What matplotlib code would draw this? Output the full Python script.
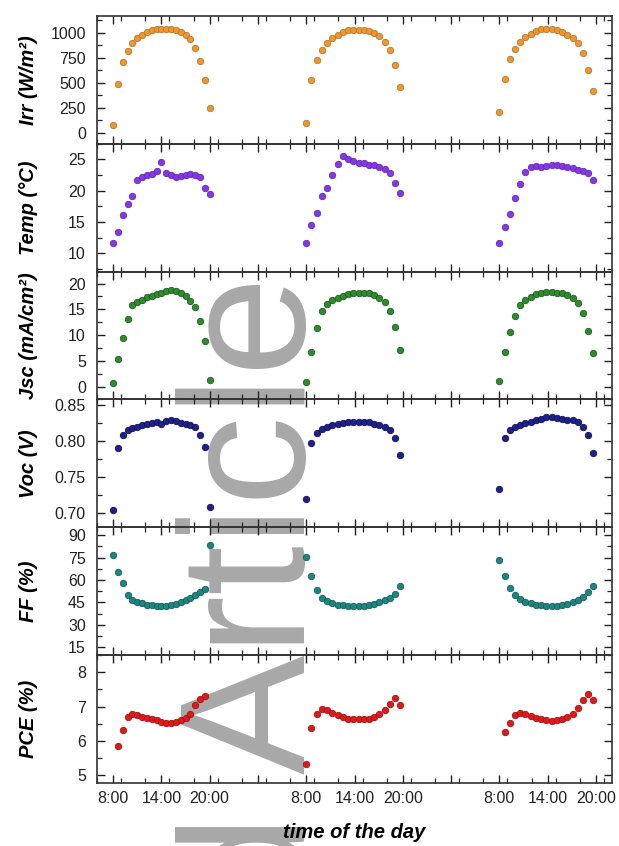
import numpy as np
import matplotlib
matplotlib.use("Agg")
import matplotlib.pyplot as plt
from matplotlib.ticker import MultipleLocator, FixedLocator, FixedFormatter

plt.rcParams['font.family'] = ['Liberation Sans', 'DejaVu Sans']

# ============================================================
# DATA (hours of the day)
# ============================================================
time_d1 = [8.0, 8.6, 9.2, 9.8, 10.4, 11.0, 11.6, 12.2, 12.8, 13.4, 14.0,
           14.6, 15.2, 15.8, 16.4, 17.0, 17.6, 18.2, 18.8, 19.4, 20.0]
time_d2 = [8.0, 8.65, 9.3, 9.95, 10.6, 11.25, 11.9, 12.55, 13.2, 13.85,
           14.5, 15.15, 15.8, 16.45, 17.1, 17.75, 18.4, 19.05, 19.6]
time_d3 = [8.0, 8.7, 9.3, 9.95, 10.6, 11.25, 11.9, 12.55, 13.2, 13.85,
           14.5, 15.15, 15.8, 16.45, 17.1, 17.75, 18.4, 19.05, 19.6]
day_offsets = [0, 24, 48]

irr_d1 = [81, 491, 712, 818, 902, 947, 982, 1007, 1025, 1035, 1042,
          1042, 1035, 1028, 1011, 982, 937, 853, 719, 526, 246]
irr_d2 = [98, 526, 726, 832, 902, 947, 982, 1007, 1025, 1028, 1028,
          1025, 1018, 1000, 965, 912, 825, 677, 456]
irr_d3 = [211, 544, 737, 842, 912, 958, 993, 1018, 1035, 1042, 1035,
          1025, 1007, 982, 947, 902, 796, 632, 421]

temp_d1 = [11.7, 13.4, 16.2, 17.9, 19.2, 21.7, 22.2, 22.5, 22.7, 23.1, 24.6,
           22.9, 22.6, 22.2, 22.3, 22.5, 22.7, 22.6, 22.2, 20.5, 19.5]
temp_d2 = [11.7, 14.6, 16.5, 19.1, 20.5, 22.5, 24.3, 25.5, 25.0, 24.7,
           24.5, 24.4, 24.2, 24.1, 23.8, 23.5, 22.8, 21.3, 19.6]
temp_d3 = [11.6, 14.3, 16.3, 18.9, 21.1, 23.0, 23.8, 23.9, 23.8, 23.9,
           24.1, 24.2, 23.9, 23.8, 23.6, 23.4, 23.2, 22.8, 21.7]

jsc_d1 = [0.7, 5.4, 9.4, 13.2, 15.8, 16.4, 16.9, 17.4, 17.6, 17.9, 18.2,
          18.5, 18.7, 18.5, 18.2, 17.6, 16.6, 15.5, 12.8, 8.9, 1.3]
jsc_d2 = [0.9, 6.8, 11.3, 14.6, 16.1, 16.8, 17.2, 17.6, 17.9, 18.1,
          18.2, 18.2, 18.1, 17.8, 17.2, 16.4, 14.7, 11.6, 7.2]
jsc_d3 = [1.1, 6.8, 10.6, 13.7, 15.8, 16.8, 17.4, 17.9, 18.2, 18.4,
          18.4, 18.2, 18.1, 17.8, 17.2, 16.3, 14.2, 10.8, 6.5]

voc_d1 = [0.704, 0.790, 0.808, 0.815, 0.818, 0.820, 0.822, 0.824, 0.825,
          0.827, 0.824, 0.828, 0.829, 0.828, 0.825, 0.824, 0.822, 0.820,
          0.808, 0.792, 0.709]
voc_d2 = [0.720, 0.798, 0.811, 0.817, 0.820, 0.823, 0.824, 0.825, 0.827,
          0.827, 0.827, 0.827, 0.826, 0.824, 0.822, 0.820, 0.816, 0.805, 0.781]
voc_d3 = [0.733, 0.805, 0.816, 0.820, 0.823, 0.825, 0.827, 0.830, 0.831,
          0.833, 0.833, 0.832, 0.831, 0.830, 0.829, 0.827, 0.820, 0.808, 0.784]

ff_d1 = [76.8, 65.7, 58.0, 50.3, 46.5, 45.4, 44.3, 43.6, 43.2, 42.8, 42.8,
         42.8, 43.2, 43.9, 45.0, 46.5, 48.1, 49.8, 52.0, 54.2, 83.4]
ff_d2 = [75.2, 62.6, 53.1, 48.1, 45.8, 44.3, 43.6, 43.2, 42.8, 42.5,
         42.5, 42.8, 43.2, 43.9, 45.0, 46.5, 48.1, 50.9, 56.0]
ff_d3 = [73.7, 62.6, 54.9, 50.3, 47.2, 45.4, 44.3, 43.6, 43.2, 42.8,
         42.8, 42.8, 43.2, 43.9, 45.0, 46.5, 48.7, 52.0, 56.0]

pce_d1 = [np.nan, 5.84, 6.33, 6.71, 6.79, 6.75, 6.71, 6.68, 6.63, 6.60, 6.56,
          6.53, 6.53, 6.55, 6.60, 6.68, 6.79, 7.05, 7.22, 7.31, np.nan]
pce_d2 = [5.32, 6.38, 6.77, 6.92, 6.89, 6.82, 6.75, 6.70, 6.65, 6.63,
          6.63, 6.63, 6.65, 6.70, 6.77, 6.89, 7.07, 7.25, 7.04]
pce_d3 = [np.nan, 6.26, 6.53, 6.75, 6.82, 6.79, 6.73, 6.68, 6.63, 6.60,
          6.58, 6.60, 6.63, 6.70, 6.79, 6.95, 7.19, 7.36, 7.19]

ylabels = ["Irr (W/m²)", "Temp (°C)", "Jsc (mA/cm²)", "Voc (V)", "FF (%)", "PCE (%)"]
face_colors = ['#f0962a', '#8a35e6', '#2e8c2e', '#20208a', '#1f8580', '#e01a1a']
edge_colors = ['#b07a3a', '#5a30b8', '#1f5c1f', '#101060', '#165f5c', '#a01515']
ylims = [(-110, 1170), (7.1, 27.5), (-2.5, 22.3), (0.68, 0.858), (9.7, 95.3), (4.77, 8.5)]
major_steps = [250, 5, 5, 0.05, 15, 1]
xtick_pos = [8, 14, 20, 26, 32, 38, 44, 50, 56, 62, 68]
xtick_lab = ["8:00", "14:00", "20:00", "", "8:00", "14:00", "20:00", "", "8:00", "14:00", "20:00"]

series = [
    [irr_d1, irr_d2, irr_d3],
    [temp_d1, temp_d2, temp_d3],
    [jsc_d1, jsc_d2, jsc_d3],
    [voc_d1, voc_d2, voc_d3],
    [ff_d1, ff_d2, ff_d3],
    [pce_d1, pce_d2, pce_d3],
]
times = [time_d1, time_d2, time_d3]

# ============================================================
# FIGURE
# ============================================================
fig, axes = plt.subplots(6, 1, figsize=(6.19, 8.46), dpi=100, sharex=True)
fig.subplots_adjust(left=97/619, right=612/619, top=1 - 16/846, bottom=1 - 783/846, hspace=0)

for k, ax in enumerate(axes):
    ax.set_facecolor('none')
    for d in range(3):
        t = np.array(times[d]) + day_offsets[d]
        ax.plot(t, series[k][d], 'o', ms=4.6, mfc=face_colors[k], mec=edge_colors[k], mew=0.6)
    ax.set_ylim(*ylims[k])
    ax.set_xlim(6, 70)
    ax.yaxis.set_major_locator(MultipleLocator(major_steps[k]))
    ax.yaxis.set_minor_locator(MultipleLocator(major_steps[k] / 2))
    ax.xaxis.set_major_locator(FixedLocator(xtick_pos))
    ax.xaxis.set_minor_locator(MultipleLocator(3))
    ax.tick_params(which='both', direction='in', top=True, right=True, labelsize=11.5, colors='#222222')
    ax.tick_params(which='major', length=6, width=1)
    ax.tick_params(which='minor', length=3.5, width=0.9)
    ax.tick_params(axis='y', pad=8)
    ax.tick_params(axis='x', pad=6)
    for s in ax.spines.values():
        s.set_linewidth(1.2)
        s.set_color('#333333')
    ax.set_ylabel(ylabels[k], fontsize=14.5, fontweight='bold', fontstyle='italic')
    ax.yaxis.set_label_coords(-0.115, 0.5)

axes[3].yaxis.set_major_formatter(plt.FuncFormatter(lambda v, p: f"{v:.2f}"))
axes[-1].xaxis.set_major_formatter(FixedFormatter(xtick_lab))
axes[-1].set_xlabel("time of the day", fontsize=14.5, fontweight='bold', fontstyle='italic', labelpad=12)

# watermark, behind the data and the text
fig.text(305/619, 1 - 276/846, "Accepted Article", fontsize=129, color='#a8a8a8',
         rotation=90, rotation_mode='anchor', ha='right', va='baseline', zorder=-1)

fig.savefig("out.png", dpi=100)
